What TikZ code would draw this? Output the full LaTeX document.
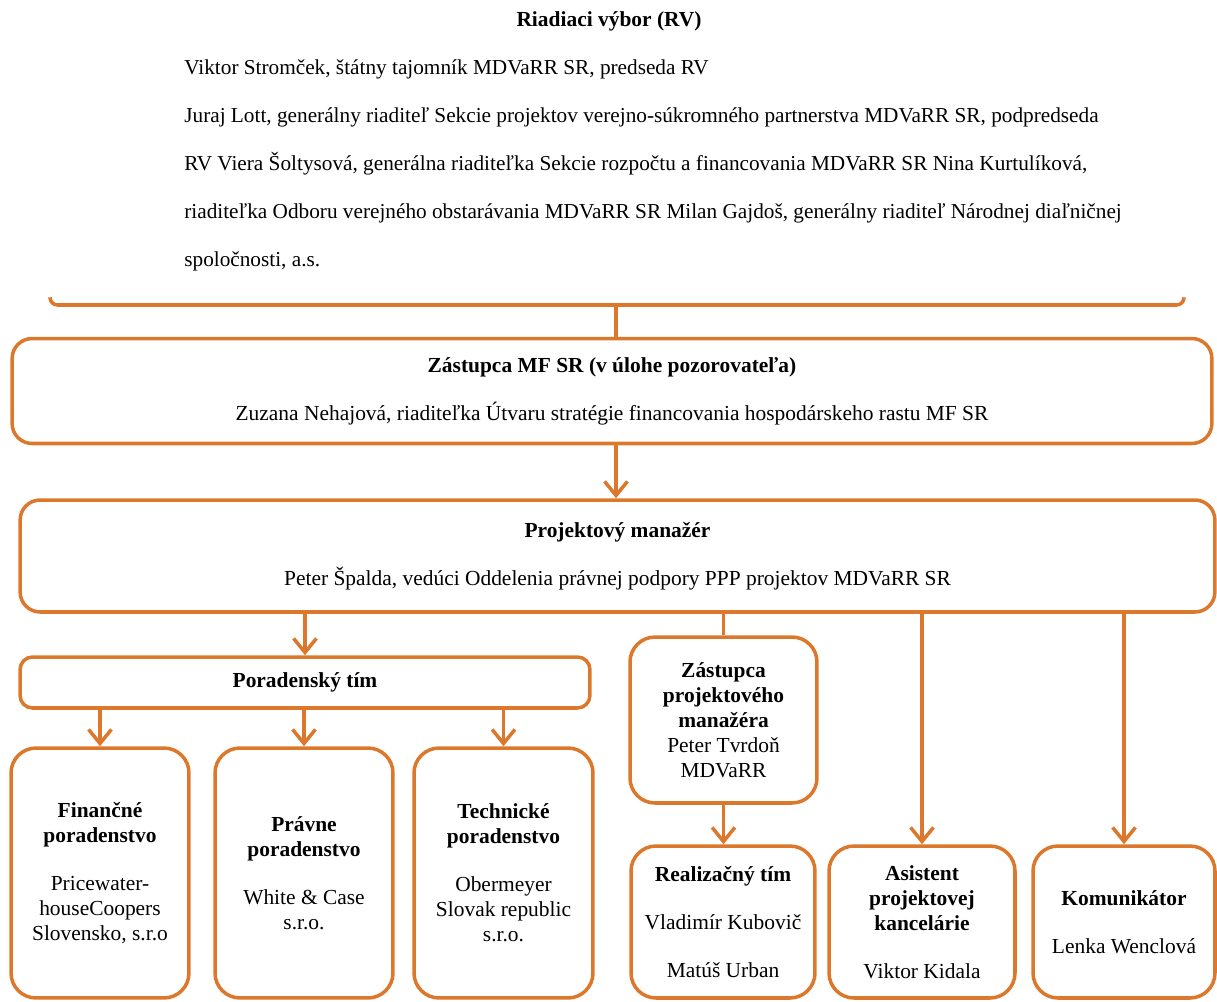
\documentclass[tikz,border=0pt]{standalone}
\usepackage{fontspec}
\setmainfont{Liberation Serif}
\usepackage{xcolor}
\usepackage{tikz}
\usetikzlibrary{arrows.meta}

\definecolor{orgline}{HTML}{DC782C}

\begin{document}
\begin{tikzpicture}[x=0.02cm, y=-0.02cm,
  every node/.style={font=\fontsize{12.2}{14.2}\selectfont, inner sep=0pt},
  box/.style={draw=orgline, line width=2pt, rounded corners=0.4cm, align=center},
  smallbox/.style={box, rounded corners=0.5cm, minimum height=5cm},
  conn/.style={draw=orgline, line width=2pt},
  arr/.style={conn, -{Straight Barb[length=8pt,width=13pt,line width=2pt]}}]
\useasboundingbox (0,0) rectangle (1217,1001);

% riadiaci vybor
\node[font=\fontsize{12.2}{14.2}\selectfont\bfseries] (rvtitle) at (609,21) {Riadiaci výbor (RV)};
\node[anchor=west, align=left, font=\fontsize{12.1}{27.3}\selectfont] (rvtext) at (184,165)
  {Viktor Stromček, štátny tajomník MDVaRR SR, predseda RV\\
   Juraj Lott, generálny riaditeľ Sekcie projektov verejno-súkromného partnerstva MDVaRR SR, podpredseda\\
   RV Viera Šoltysová, generálna riaditeľka Sekcie rozpočtu a financovania MDVaRR SR Nina Kurtulíková,\\
   riaditeľka Odboru verejného obstarávania MDVaRR SR Milan Gajdoš, generálny riaditeľ Národnej diaľničnej\\
   spoločnosti, a.s.};
\draw[conn, rounded corners=0.15cm] (50,298) |- (1184,305) -- (1184,298);
\coordinate (rvbot) at (616,305);

% hlavne boxy
\node[box, minimum width=24cm, minimum height=2.1cm] (mf) at (612,391)
  {\textbf{Zástupca MF SR (v úlohe pozorovateľa)}\\[13pt]
   Zuzana Nehajová, riaditeľka Útvaru stratégie financovania hospodárskeho rastu MF SR};
\node[box, minimum width=23.9cm, minimum height=2.24cm] (pm) at (617.5,556)
  {\textbf{Projektový manažér}\\[13pt]
   Peter Špalda, vedúci Oddelenia právnej podpory PPP projektov MDVaRR SR};
\node[box, rounded corners=0.25cm, minimum width=11.4cm, minimum height=1.02cm] (por) at (305,682.5)
  {\textbf{Poradenský tím}};

% poradenstvo
\node[smallbox, minimum width=3.56cm] (fin) at (100,873)
  {\textbf{Finančné}\\\textbf{poradenstvo}\\[13pt]Pricewater-\\houseCoopers\\Slovensko, s.r.o};
\node[smallbox, minimum width=3.56cm] (prav) at (304,873)
  {\textbf{Právne}\\\textbf{poradenstvo}\\[13pt]White \& Case\\s.r.o.};
\node[smallbox, minimum width=3.58cm] (tech) at (503.5,873)
  {\textbf{Technické}\\\textbf{poradenstvo}\\[13pt]Obermeyer\\Slovak republic\\s.r.o.};

% projektovy tim
\node[smallbox, minimum width=3.74cm, minimum height=3.32cm] (zpm) at (723.5,720)
  {\textbf{Zástupca}\\\textbf{projektového}\\\textbf{manažéra}\\Peter Tvrdoň\\MDVaRR};
\node[smallbox, minimum width=3.68cm, minimum height=3.04cm] (real) at (723,922)
  {\textbf{Realizačný tím}\\[13pt]Vladimír Kubovič\\[13pt]Matúš Urban};
\node[smallbox, minimum width=3.72cm, minimum height=3.04cm] (asist) at (922,922)
  {\textbf{Asistent}\\\textbf{projektovej}\\\textbf{kancelárie}\\[13pt]Viktor Kidala};
\node[smallbox, minimum width=3.64cm, minimum height=3.04cm] (komu) at (1124,922)
  {\textbf{Komunikátor}\\[13pt]Lenka Wenclová};

% spojenia
\draw[conn] (rvbot) -- (rvbot |- mf.north);
\draw[arr] (rvbot |- mf.south) -- (rvbot |- pm.north);
\draw[arr] (por.north |- pm.south) -- (por.north);
\draw[conn] (zpm.north |- pm.south) -- (zpm.north);
\draw[arr] (asist.north |- pm.south) -- (asist.north);
\draw[arr] (komu.north |- pm.south) -- (komu.north);
\foreach \n in {fin, prav, tech}
  \draw[arr] (\n.north |- por.south) -- (\n.north);
\draw[arr] (zpm.south) -- (zpm.south |- real.north);
\end{tikzpicture}
\end{document}
